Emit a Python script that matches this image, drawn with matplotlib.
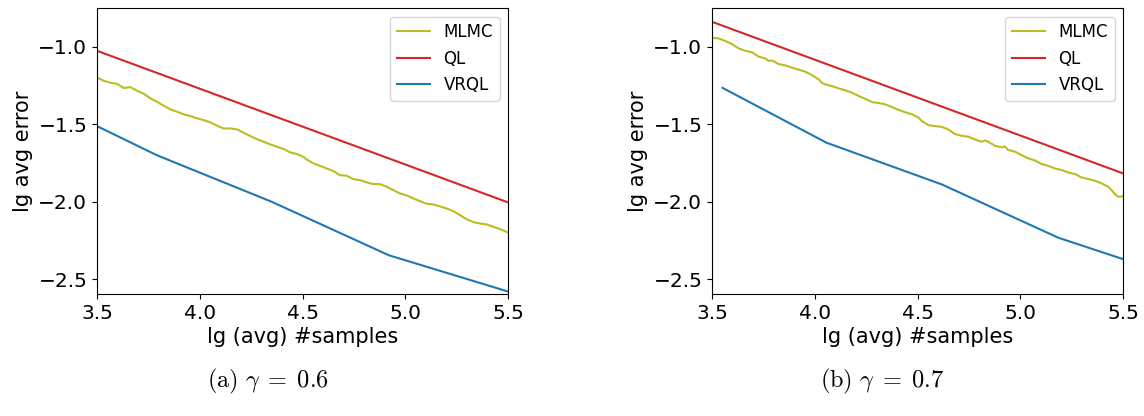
import numpy as np
import matplotlib
matplotlib.use('Agg')
import matplotlib.pyplot as plt

plt.rcParams['mathtext.fontset'] = 'cm'

# (a) gamma = 0.6
x_ql_a = [3.5, 5.5]
ql_a = [-1.026, -2.004]

x_vrql_a = [3.5, 3.79, 4.35, 4.92, 5.5]
vrql_a = [-1.512, -1.699, -2.00, -2.345, -2.579]

x_mlmc_a = [3.500, 3.532, 3.565, 3.597, 3.630, 3.662, 3.695, 3.727, 3.760, 3.792,
            3.824, 3.857, 3.889, 3.922, 3.954, 3.987, 4.019, 4.051, 4.084, 4.116,
            4.149, 4.181, 4.214, 4.246, 4.279, 4.311, 4.343, 4.376, 4.408, 4.441,
            4.473, 4.506, 4.520, 4.553, 4.585, 4.617, 4.650, 4.682, 4.715, 4.747,
            4.780, 4.812, 4.845, 4.877, 4.909, 4.942, 4.974, 5.006, 5.039, 5.071,
            5.104, 5.136, 5.169, 5.201, 5.233, 5.266, 5.298, 5.331, 5.363, 5.396,
            5.428, 5.460, 5.500]
mlmc_a = [-1.198, -1.219, -1.232, -1.239, -1.266, -1.260, -1.284, -1.303, -1.333, -1.355,
          -1.380, -1.404, -1.419, -1.436, -1.447, -1.462, -1.473, -1.488, -1.509, -1.527,
          -1.527, -1.533, -1.555, -1.576, -1.596, -1.613, -1.630, -1.645, -1.660, -1.682,
          -1.692, -1.712, -1.727, -1.752, -1.768, -1.785, -1.802, -1.828, -1.832, -1.854,
          -1.860, -1.875, -1.886, -1.886, -1.903, -1.925, -1.946, -1.959, -1.978, -1.996,
          -2.013, -2.017, -2.030, -2.043, -2.060, -2.086, -2.112, -2.131, -2.140, -2.146,
          -2.161, -2.176, -2.198]

# (b) gamma = 0.7
x_ql_b = [3.5, 5.5]
ql_b = [-0.839, -1.817]

x_vrql_b = [3.551, 4.057, 4.618, 5.185, 5.5]
vrql_b = [-1.265, -1.619, -1.888, -2.232, -2.370]

x_mlmc_b = [3.500, 3.532, 3.565, 3.597, 3.630, 3.662, 3.695, 3.727, 3.760, 3.776,
            3.792, 3.825, 3.857, 3.889, 3.922, 3.954, 3.987, 4.019, 4.036, 4.052,
            4.084, 4.117, 4.149, 4.182, 4.214, 4.247, 4.279, 4.311, 4.344, 4.376,
            4.409, 4.441, 4.474, 4.506, 4.519, 4.552, 4.584, 4.617, 4.649, 4.682,
            4.714, 4.747, 4.779, 4.812, 4.828, 4.844, 4.877, 4.909, 4.925, 4.941,
            4.974, 5.006, 5.039, 5.071, 5.104, 5.136, 5.168, 5.201, 5.233, 5.266,
            5.298, 5.331, 5.363, 5.395, 5.428, 5.444, 5.460, 5.477, 5.500]
mlmc_b = [-0.942, -0.946, -0.963, -0.983, -1.011, -1.026, -1.036, -1.064, -1.075, -1.092,
          -1.088, -1.112, -1.120, -1.135, -1.148, -1.161, -1.183, -1.211, -1.234, -1.243,
          -1.254, -1.269, -1.281, -1.297, -1.318, -1.337, -1.357, -1.363, -1.372, -1.389,
          -1.408, -1.423, -1.436, -1.458, -1.477, -1.505, -1.512, -1.516, -1.533, -1.563,
          -1.574, -1.580, -1.598, -1.613, -1.604, -1.613, -1.639, -1.649, -1.643, -1.666,
          -1.677, -1.699, -1.720, -1.733, -1.757, -1.768, -1.785, -1.795, -1.811, -1.821,
          -1.843, -1.854, -1.864, -1.881, -1.903, -1.925, -1.950, -1.968, -1.964]

captions = [r'$\mathrm{(a)}\ \gamma\;=\;0.6$', r'$\mathrm{(b)}\ \gamma\;=\;0.7$']

fig = plt.figure(figsize=(11.44, 4.16), dpi=100)
ax1 = fig.add_axes([0.0848, 0.2925, 0.3593, 0.6875])
ax2 = fig.add_axes([0.6224, 0.2925, 0.3593, 0.6875])

panels = [(ax1, x_mlmc_a, mlmc_a, x_ql_a, ql_a, x_vrql_a, vrql_a),
          (ax2, x_mlmc_b, mlmc_b, x_ql_b, ql_b, x_vrql_b, vrql_b)]

for ax, xm, ym, xq, yq, xv, yv in panels:
    ax.plot(xm, ym, color='tab:olive', lw=1.5, label='MLMC')
    ax.plot(xq, yq, color='tab:red', lw=1.5, label='QL')
    ax.plot(xv, yv, color='tab:blue', lw=1.5, label='VRQL')
    ax.set_xlim(3.5, 5.5)
    ax.set_ylim(-2.597, -0.752)
    ax.set_xticks([3.5, 4.0, 4.5, 5.0, 5.5])
    ax.set_yticks([-1.0, -1.5, -2.0, -2.5])
    ax.tick_params(labelsize=14.5)
    ax.set_xlabel('lg (avg) #samples', fontsize=15, labelpad=3)
    ax.set_ylabel('lg avg error', fontsize=15)
    ax.legend(loc='upper right', fontsize=12)

fig.text(268 / 1144, 1 - 381 / 416, captions[0], fontsize=17.5, ha='center', va='center')
fig.text(882 / 1144, 1 - 381 / 416, captions[1], fontsize=17.5, ha='center', va='center')

fig.savefig('out.png', dpi=100)
